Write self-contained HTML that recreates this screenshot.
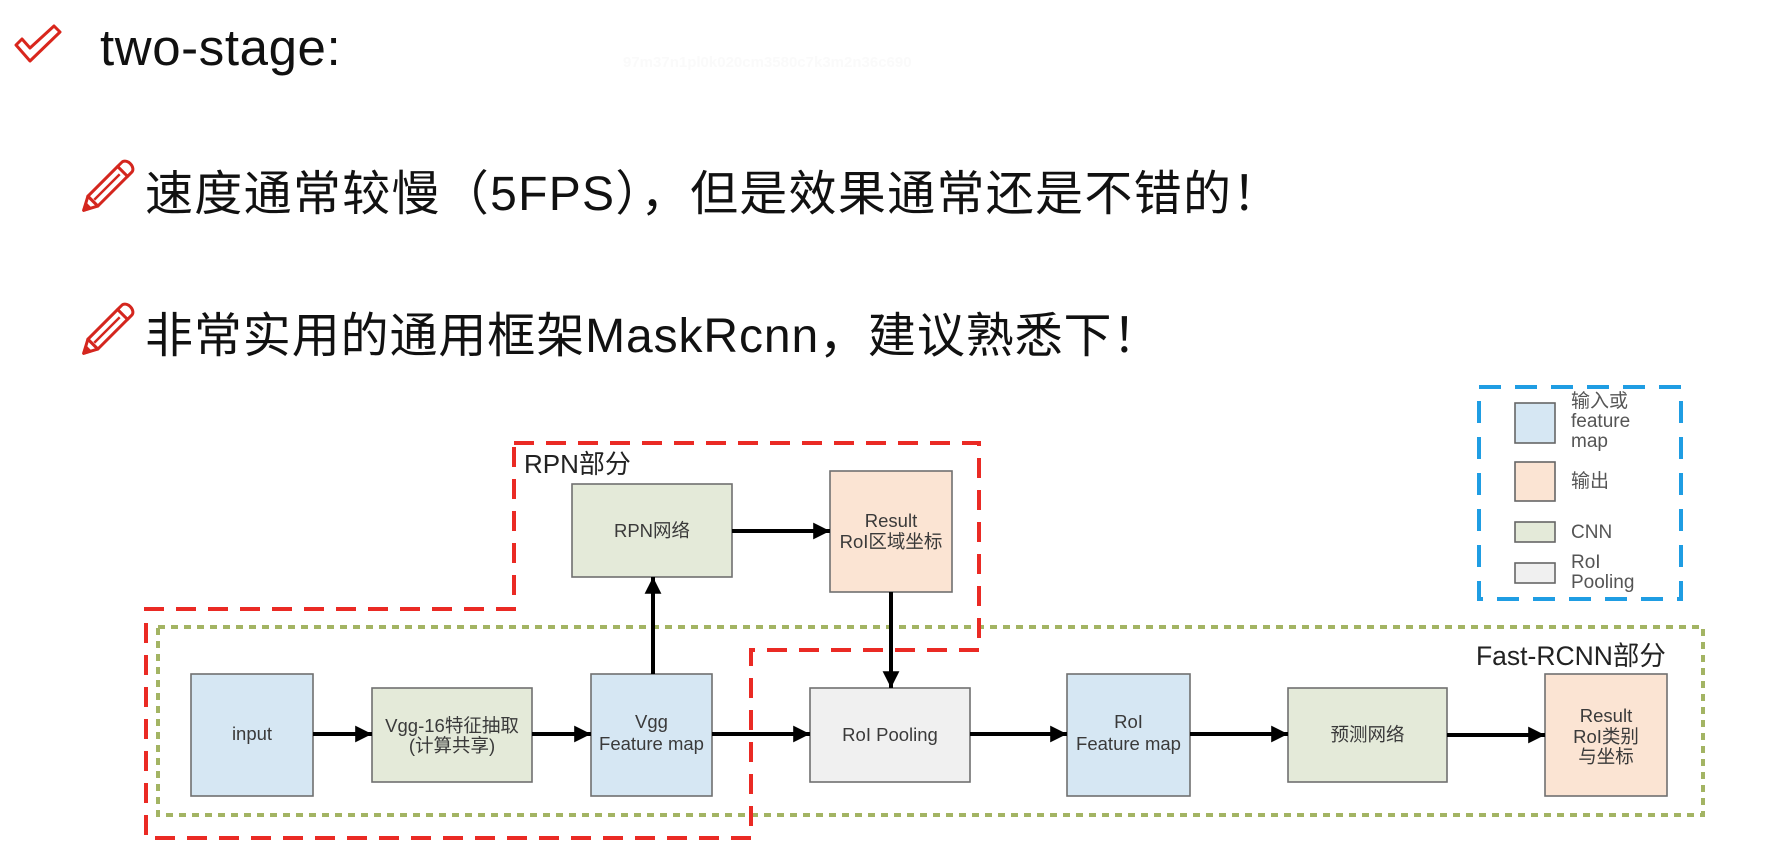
<!DOCTYPE html>
<html>
<head>
<meta charset="utf-8">
<style>
html,body{margin:0;padding:0;background:#fff;}
body{width:1774px;height:856px;overflow:hidden;position:relative;}
svg{position:absolute;left:0;top:0;}
.t{font-family:"Liberation Sans","Noto Sans CJK SC",sans-serif;}
.bx{font-family:"Liberation Sans","Noto Sans CJK SC",sans-serif;font-size:18.5px;fill:#3a3a3a;text-anchor:middle;}
.lg{font-family:"Liberation Sans","Noto Sans CJK SC",sans-serif;font-size:19px;fill:#555;}
</style>
</head>
<body>
<svg width="1774" height="856" viewBox="0 0 1774 856" xmlns="http://www.w3.org/2000/svg">
  <defs>
    <marker id="ah" viewBox="0 0 10 10" refX="10" refY="5" markerWidth="4.6" markerHeight="4.2" markerUnits="strokeWidth" orient="auto">
      <path d="M0,0 L10,5 L0,10 Z" fill="#000"/>
    </marker>
  </defs>

  <!-- faint watermark -->
  <text x="623" y="67" class="t" font-size="15" font-weight="bold" fill="#fafafa">97m37n1pl0k020cm3580c7k3m2n36c690</text>

  <!-- check icon -->
  <polygon points="16,45 22,39 30,48 54,26 60,32 30,61" fill="none" stroke="#d9261c" stroke-width="3" stroke-linejoin="round"/>
  <text x="100" y="65" class="t" font-size="51" fill="#111" letter-spacing="0.6">two-stage:</text>

  <!-- pencil line 2 -->
  <g transform="translate(107,187) rotate(-45)" fill="none" stroke="#d4261e" stroke-width="3" stroke-linejoin="round">
    <polygon points="-33,0 -20,-7 -20,7"/>
    <polygon points="-33,0 -27,-3 -27,3" fill="#d4261e"/>
    <rect x="-20" y="-7" width="42" height="14"/>
    <line x1="-18" y1="0" x2="18" y2="0" stroke-width="2.5"/>
    <path d="M22,-7 H28 A5,7 0 0 1 28,7 H22"/>
  </g>
  <text x="145" y="210" class="t" font-size="48" fill="#111" letter-spacing="1.3">速度通常较慢（5FPS），但是效果通常还是不错的！</text>

  <!-- pencil line 3 -->
  <g transform="translate(107,330) rotate(-45)" fill="none" stroke="#d4261e" stroke-width="3" stroke-linejoin="round">
    <polygon points="-33,0 -20,-7 -20,7"/>
    <polygon points="-33,0 -27,-3 -27,3" fill="#d4261e"/>
    <rect x="-20" y="-7" width="42" height="14"/>
    <line x1="-18" y1="0" x2="18" y2="0" stroke-width="2.5"/>
    <path d="M22,-7 H28 A5,7 0 0 1 28,7 H22"/>
  </g>
  <text x="145" y="352" class="t" font-size="48" fill="#111" letter-spacing="0.9">非常实用的通用框架MaskRcnn，建议熟悉下！</text>

  <!-- region outlines -->
  <rect x="158" y="627" width="1545" height="188" fill="none" stroke="#a3b463" stroke-width="4" stroke-dasharray="7 6"/>
  <path d="M514,443 H979 V650 H751 V838 H146 V609 H514 Z" fill="none" stroke="#ea2a24" stroke-width="4" stroke-dasharray="20 12"/>
  <rect x="1479" y="387" width="202" height="212" fill="none" stroke="#1f9de3" stroke-width="4" stroke-dasharray="22 14"/>

  <text x="524" y="473" class="t" font-size="26" fill="#222">RPN部分</text>
  <text x="1476" y="665" class="t" font-size="26.5" fill="#222">Fast-RCNN部分</text>

  <!-- boxes -->
  <g stroke="#707070" stroke-width="1.6">
    <rect x="191" y="674" width="122" height="122" fill="#d6e7f3"/>
    <rect x="372" y="688" width="160" height="94" fill="#e4ead9"/>
    <rect x="591" y="674" width="121" height="122" fill="#d6e7f3"/>
    <rect x="572" y="484" width="160" height="93" fill="#e4ead9"/>
    <rect x="830" y="471" width="122" height="121" fill="#fbe4d3"/>
    <rect x="810" y="688" width="160" height="94" fill="#f0f0f0"/>
    <rect x="1067" y="674" width="123" height="122" fill="#d6e7f3"/>
    <rect x="1288" y="688" width="159" height="94" fill="#e4ead9"/>
    <rect x="1545" y="674" width="122" height="122" fill="#fbe4d3"/>
  </g>

  <!-- box labels -->
  <text x="252" y="740" class="bx">input</text>
  <text x="452" y="732" class="bx">Vgg-16特征抽取</text>
  <text x="452" y="752" class="bx">(计算共享)</text>
  <text x="651.5" y="728" class="bx">Vgg</text>
  <text x="651.5" y="750" class="bx">Feature map</text>
  <text x="652" y="537" class="bx">RPN网络</text>
  <text x="891" y="527" class="bx">Result</text>
  <text x="891" y="548" class="bx">RoI区域坐标</text>
  <text x="890" y="741" class="bx">RoI Pooling</text>
  <text x="1128.5" y="728" class="bx">RoI</text>
  <text x="1128.5" y="750" class="bx">Feature map</text>
  <text x="1367.5" y="741" class="bx">预测网络</text>
  <text x="1606" y="722" class="bx">Result</text>
  <text x="1606" y="743" class="bx">RoI类别</text>
  <text x="1606" y="763" class="bx">与坐标</text>

  <!-- arrows -->
  <g stroke="#000" stroke-width="4" fill="none" marker-end="url(#ah)">
    <line x1="313" y1="734" x2="372" y2="734"/>
    <line x1="532" y1="734" x2="591" y2="734"/>
    <line x1="712" y1="734" x2="810" y2="734"/>
    <line x1="970" y1="734" x2="1067" y2="734"/>
    <line x1="1190" y1="734" x2="1288" y2="734"/>
    <line x1="1447" y1="735" x2="1545" y2="735"/>
    <line x1="653" y1="674" x2="653" y2="577"/>
    <line x1="732" y1="531" x2="830" y2="531"/>
    <line x1="891" y1="592" x2="891" y2="688"/>
  </g>

  <!-- legend -->
  <g stroke="#666" stroke-width="1.6">
    <rect x="1515" y="403" width="40" height="40" fill="#d6e7f3"/>
    <rect x="1515" y="462" width="40" height="39" fill="#fbe4d3"/>
    <rect x="1515" y="522" width="40" height="20" fill="#e4ead9"/>
    <rect x="1515" y="563" width="40" height="20" fill="#f0f0f0"/>
  </g>
  <text x="1571" y="407" class="lg">输入或</text>
  <text x="1571" y="427" class="lg">feature</text>
  <text x="1571" y="447" class="lg">map</text>
  <text x="1571" y="487" class="lg">输出</text>
  <text x="1571" y="538" class="lg">CNN</text>
  <text x="1571" y="568" class="lg">RoI</text>
  <text x="1571" y="588" class="lg">Pooling</text>
</svg>
</body>
</html>
